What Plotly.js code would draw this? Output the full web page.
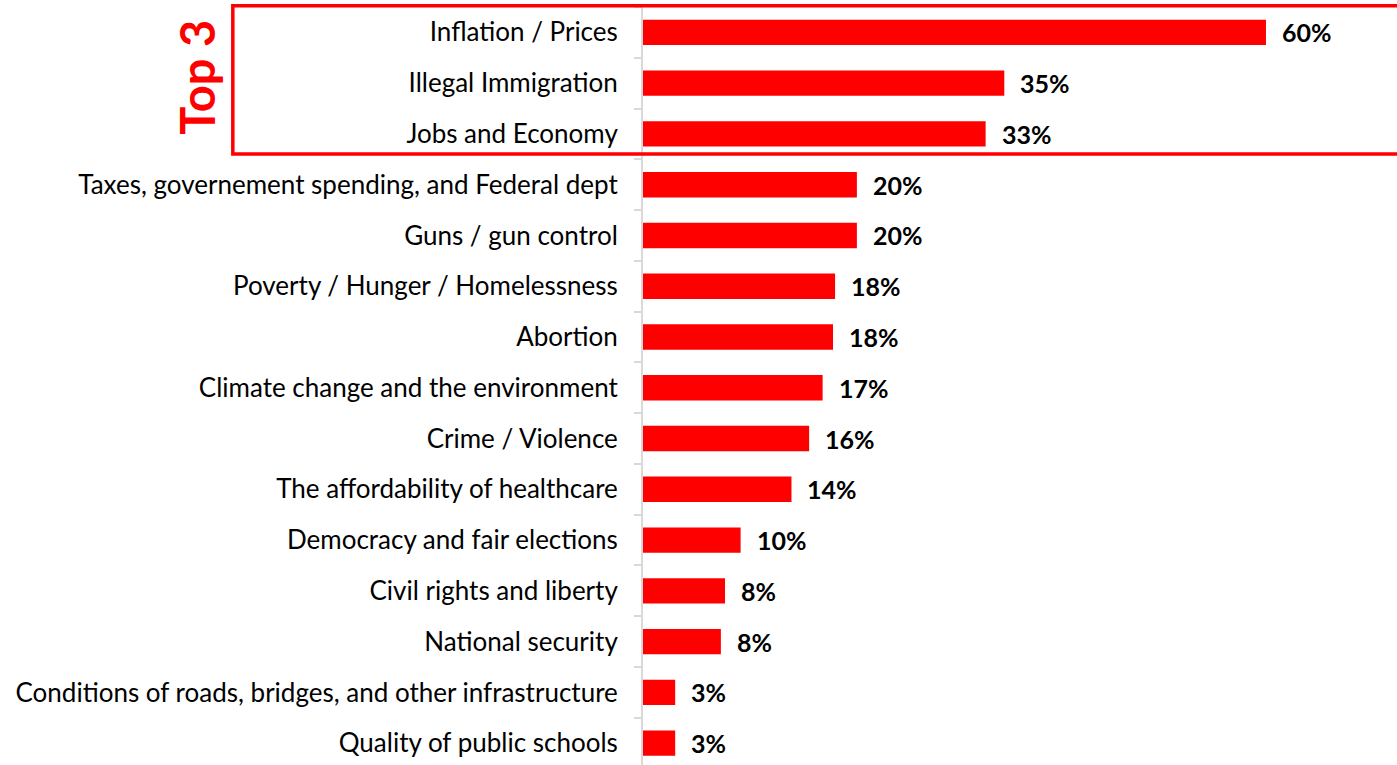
<!DOCTYPE html>
<html>
<head>
<meta charset="utf-8">
<script src="https://cdn.plot.ly/plotly-3.0.1.min.js"></script>
<style>
  html, body { margin: 0; padding: 0; background: #ffffff; }
  #chart { width: 1397px; height: 765px; }
</style>
</head>
<body>
<div id="chart"></div>
<script>
const categories = [
  "Inflation / Prices",
  "Illegal Immigration",
  "Jobs and Economy",
  "Taxes, governement spending, and Federal dept",
  "Guns / gun control",
  "Poverty / Hunger / Homelessness",
  "Abortion",
  "Climate change and the environment",
  "Crime / Violence",
  "The affordability of healthcare",
  "Democracy and fair elections",
  "Civil rights and liberty",
  "National security",
  "Conditions of roads, bridges, and other infrastructure",
  "Quality of public schools"
];
const values = [60, 34.8, 33.0, 20.6, 20.6, 18.5, 18.3, 17.3, 16.0, 14.3, 9.4, 7.9, 7.5, 3.1, 3.1];
const valueLabels = ["60%", "35%", "33%", "20%", "20%", "18%", "18%", "17%", "16%", "14%", "10%", "8%", "8%", "3%", "3%"];
const topGroupLabel = "Top 3";

const FONT = "Lato, 'Liberation Sans', sans-serif";

const trace = {
  type: "bar",
  orientation: "h",
  x: values,
  y: categories,
  marker: { color: "#ff0000" },
  hoverinfo: "none"
};

const annotations = values.map((v, i) => ({
  x: v,
  y: categories[i],
  xref: "x",
  yref: "y",
  text: valueLabels[i],
  showarrow: false,
  xanchor: "left",
  yanchor: "middle",
  xshift: 14,
  font: { family: FONT, size: 25, color: "#000000", weight: "bold" }
}));

annotations.push({
  xref: "paper",
  yref: "y",
  x: -0.592,
  y: 0.88,
  text: topGroupLabel,
  textangle: -90,
  showarrow: false,
  xanchor: "center",
  yanchor: "middle",
  font: { family: FONT, size: 47, color: "#ff0000", weight: "bold" }
});

const layout = {
  width: 1397,
  height: 765,
  margin: { l: 643, r: 0, t: 6.7, b: 0, pad: 0 },
  paper_bgcolor: "#ffffff",
  plot_bgcolor: "#ffffff",
  bargap: 0.5,
  showlegend: false,
  xaxis: {
    range: [0, 72.62],
    visible: false,
    fixedrange: true
  },
  yaxis: {
    type: "category",
    range: [14.43, -0.5],
    showline: true,
    linecolor: "#d9d9d9",
    linewidth: 2,
    ticks: "outside",
    tickson: "boundaries",
    ticklen: 7,
    tickwidth: 2,
    tickcolor: "#d9d9d9",
    ticklabelstandoff: 18,
    showgrid: false,
    zeroline: false,
    tickfont: { family: FONT, size: 26, color: "#000000" },
    fixedrange: true
  },
  shapes: [{
    type: "rect",
    xref: "paper",
    yref: "paper",
    x0: -0.544,
    x1: 1.02,
    y0: 0.806,
    y1: 1.0018,
    line: { color: "#ff0000", width: 3.5 },
    fillcolor: "rgba(0,0,0,0)",
    layer: "above"
  }],
  annotations: annotations
};

Plotly.newPlot("chart", [trace], layout, { displayModeBar: false, staticPlot: true });
</script>
</body>
</html>
